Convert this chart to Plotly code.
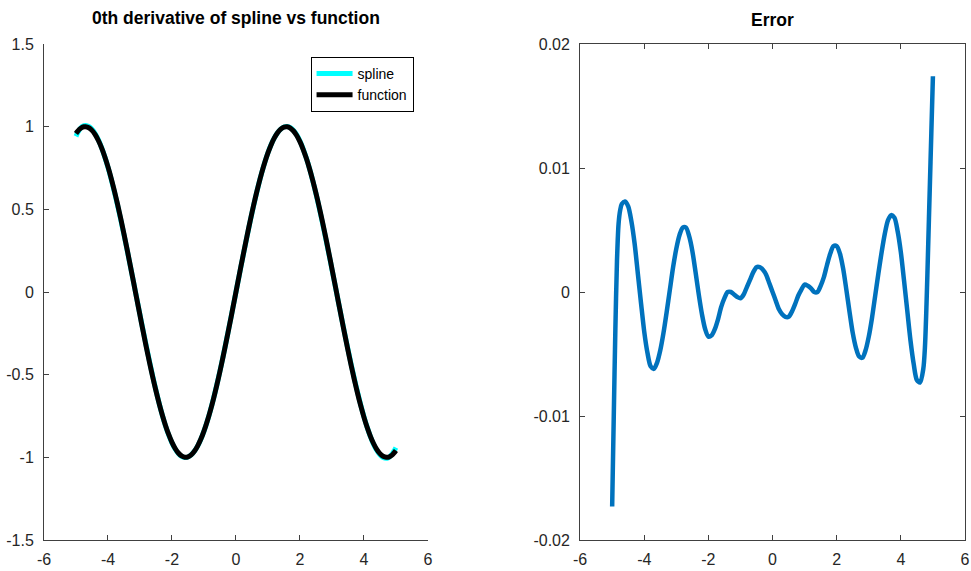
import plotly.graph_objects as go

# ---------------- data ----------------
x_vals = [-5.00, -4.95, -4.90, -4.85, -4.80, -4.75, -4.70, -4.60, -4.50, -4.40,
          -4.30, -4.20, -4.10, -4.00, -3.90, -3.80, -3.70, -3.60, -3.50, -3.40,
          -3.30, -3.20, -3.10, -3.00, -2.90, -2.80, -2.70, -2.60, -2.50, -2.40,
          -2.30, -2.20, -2.10, -2.00, -1.90, -1.80, -1.70, -1.60, -1.50, -1.40,
          -1.30, -1.20, -1.10, -1.00, -0.90, -0.80, -0.70, -0.60, -0.50, -0.40,
          -0.30, -0.20, -0.10, 0.00, 0.10, 0.20, 0.30, 0.40, 0.50, 0.60,
          0.70, 0.80, 0.90, 1.00, 1.10, 1.20, 1.30, 1.40, 1.50, 1.60,
          1.70, 1.80, 1.90, 2.00, 2.10, 2.20, 2.30, 2.40, 2.50, 2.60,
          2.70, 2.80, 2.90, 3.00, 3.10, 3.20, 3.30, 3.40, 3.50, 3.60,
          3.70, 3.80, 3.90, 4.00, 4.10, 4.20, 4.30, 4.40, 4.50, 4.60,
          4.70, 4.75, 4.80, 4.85, 4.90, 4.95, 5.00]

function_vals = [0.9589, 0.9719, 0.9825, 0.9903, 0.9962, 0.9993, 0.9999, 0.9937, 0.9775, 0.9516,
                 0.9162, 0.8716, 0.8183, 0.7568, 0.6878, 0.6119, 0.5298, 0.4425, 0.3508, 0.2555,
                 0.1577, 0.0584, -0.0416, -0.1411, -0.2392, -0.3350, -0.4274, -0.5155, -0.5985, -0.6755,
                 -0.7457, -0.8085, -0.8632, -0.9093, -0.9463, -0.9738, -0.9917, -0.9996, -0.9975, -0.9854,
                 -0.9636, -0.9320, -0.8912, -0.8415, -0.7833, -0.7174, -0.6442, -0.5646, -0.4794, -0.3894,
                 -0.2955, -0.1987, -0.0998, 0.0000, 0.0998, 0.1987, 0.2955, 0.3894, 0.4794, 0.5646,
                 0.6442, 0.7174, 0.7833, 0.8415, 0.8912, 0.9320, 0.9636, 0.9854, 0.9975, 0.9996,
                 0.9917, 0.9738, 0.9463, 0.9093, 0.8632, 0.8085, 0.7457, 0.6755, 0.5985, 0.5155,
                 0.4274, 0.3350, 0.2392, 0.1411, 0.0416, -0.0584, -0.1577, -0.2555, -0.3508, -0.4425,
                 -0.5298, -0.6119, -0.6878, -0.7568, -0.8183, -0.8716, -0.9162, -0.9516, -0.9775, -0.9937,
                 -0.9999, -0.9993, -0.9962, -0.9903, -0.9825, -0.9719, -0.9589]

error_vals = [-0.0173, -0.0100, -0.0030, 0.0025, 0.0055, 0.0066, 0.0071, 0.0073, 0.0069, 0.0057,
              0.0039, 0.0015, -0.0009, -0.0032, -0.0049, -0.0060, -0.0062, -0.0057, -0.0047, -0.0033,
              -0.0016, 0.0002, 0.0020, 0.0035, 0.0046, 0.0052, 0.0052, 0.0045, 0.0033, 0.0016,
              -0.0002, -0.0018, -0.0030, -0.0036, -0.0035, -0.0030, -0.0022, -0.0012, -0.0005, 0.0000,
              0.0000, -0.0002, -0.0004, -0.0005, -0.0002, 0.0004, 0.0010, 0.0016, 0.0020, 0.0020,
              0.0018, 0.0014, 0.0007, 0.0000, -0.0007, -0.0014, -0.0018, -0.0020, -0.0020, -0.0016,
              -0.0010, -0.0003, 0.0002, 0.0006, 0.0005, 0.0003, 0.0000, 0.0000, 0.0005, 0.0012,
              0.0022, 0.0031, 0.0037, 0.0037, 0.0031, 0.0019, 0.0002, -0.0016, -0.0033, -0.0045,
              -0.0052, -0.0053, -0.0047, -0.0036, -0.0021, -0.0003, 0.0015, 0.0032, 0.0047, 0.0058,
              0.0062, 0.0060, 0.0049, 0.0032, 0.0009, -0.0015, -0.0039, -0.0058, -0.0071, -0.0073,
              -0.0062, -0.0045, -0.0010, 0.0035, 0.0082, 0.0128, 0.0174]

spline_vals = [f + e for f, e in zip(function_vals, error_vals)]

x_ticks = [-6, -4, -2, 0, 2, 4, 6]
x_ticktext = ["-6", "-4", "-2", "0", "2", "4", "6"]
y1_ticks = [-1.5, -1, -0.5, 0, 0.5, 1, 1.5]
y1_ticktext = ["-1.5", "-1", "-0.5", "0", "0.5", "1", "1.5"]
y2_ticks = [-0.02, -0.01, 0, 0.01, 0.02]
y2_ticktext = ["-0.02", "-0.01", "0", "0.01", "0.02"]

title_left = "0th derivative of spline vs function"
title_right = "Error"

# ---------------- figure ----------------
FONT = "Liberation Sans, Arial, Helvetica, sans-serif"
AX = "#404040"
TXT = "#262626"

fig = go.Figure()
fig.add_trace(go.Scatter(x=x_vals, y=spline_vals, mode="lines", name="spline",
                         line=dict(color="#00FFFF", width=5, shape="spline", smoothing=0.8),
                         xaxis="x", yaxis="y"))
fig.add_trace(go.Scatter(x=x_vals, y=function_vals, mode="lines", name="function",
                         line=dict(color="#000000", width=5, shape="spline", smoothing=0.8),
                         xaxis="x", yaxis="y"))
fig.add_trace(go.Scatter(x=x_vals, y=error_vals, mode="lines", name="error",
                         line=dict(color="#0072BD", width=4.5, shape="spline", smoothing=0.8),
                         xaxis="x2", yaxis="y2", showlegend=False))

common_axis = dict(showgrid=False, zeroline=False, showline=True, linecolor=AX, linewidth=1,
                   ticks="inside", ticklen=5, tickcolor=AX, tickwidth=1,
                   tickfont=dict(family=FONT, size=16, color=TXT))

left_dom = [0.0, (430 - 44) / 926]
right_dom = [(583 - 44) / 926, 1.0]

fig.update_layout(
    width=971, height=571,
    margin=dict(l=44, r=1, t=44, b=31),
    paper_bgcolor="white", plot_bgcolor="white",
    font=dict(family=FONT, color=TXT),
    xaxis=dict(domain=left_dom, range=[-6, 6], tickvals=x_ticks, ticktext=x_ticktext,
               anchor="y", mirror=False, ticklabelstandoff=5, **common_axis),
    yaxis=dict(domain=[0, 1], range=[-1.5, 1.5], tickvals=y1_ticks, ticktext=y1_ticktext,
               anchor="x", mirror=False, ticklabelstandoff=6, **common_axis),
    xaxis2=dict(domain=right_dom, range=[-6, 6], tickvals=x_ticks, ticktext=x_ticktext,
                anchor="y2", mirror="ticks", ticklabelstandoff=5, **common_axis),
    yaxis2=dict(domain=[0, 1], range=[-0.02, 0.02], tickvals=y2_ticks, ticktext=y2_ticktext,
                anchor="x2", mirror="ticks", ticklabelstandoff=6, **common_axis),
    legend=dict(x=(312 - 44) / 926, y=(540 - 57) / 496, xanchor="left", yanchor="top",
                bgcolor="white", bordercolor="#000000", borderwidth=1,
                font=dict(family=FONT, size=14, color="#000000"),
                tracegroupgap=0, itemwidth=36),
    annotations=[
        dict(text="<b>" + title_left + "</b>", xref="paper", yref="paper",
             x=(left_dom[0] + left_dom[1]) / 2, y=1, yshift=26, showarrow=False,
             xanchor="center", yanchor="middle",
             font=dict(family=FONT, size=17.5, color="#000000")),
        dict(text="<b>" + title_right + "</b>", xref="paper", yref="paper",
             x=(right_dom[0] + right_dom[1]) / 2, y=1, yshift=24, showarrow=False,
             xanchor="center", yanchor="middle",
             font=dict(family=FONT, size=17.5, color="#000000")),
    ],
)

fig.write_html("out.html")
